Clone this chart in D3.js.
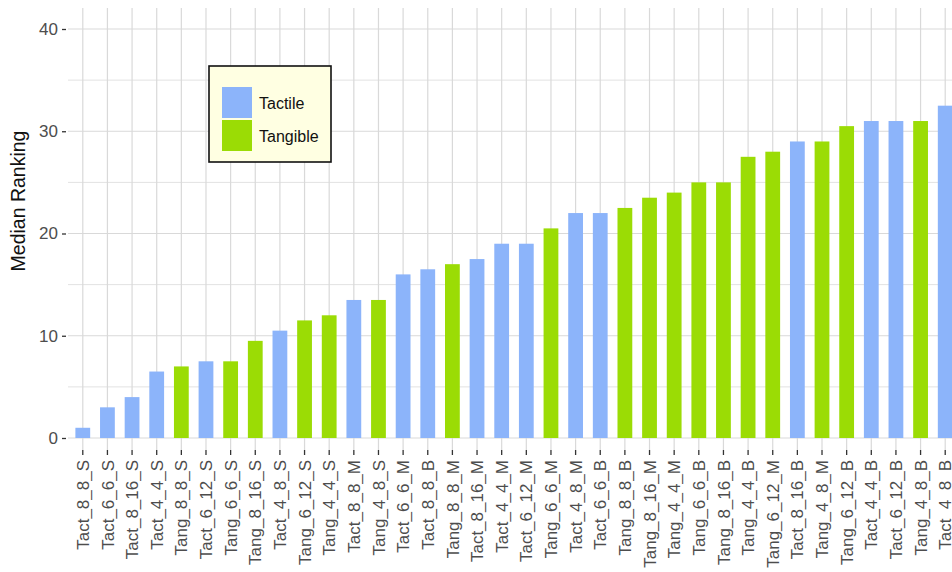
<!DOCTYPE html>
<html>
<head>
<meta charset="utf-8">
<script src="https://cdn.jsdelivr.net/npm/d3@7"></script>
<style>
  html, body { margin: 0; padding: 0; background: #fff; }
  svg { display: block; }
  text { font-family: "Liberation Sans", Arial, sans-serif; }
</style>
</head>
<body>
<svg id="chart" width="952" height="572"></svg>
<script>
const categories = ["Tact_8_8_S","Tact_6_6_S","Tact_8_16_S","Tact_4_4_S","Tang_8_8_S","Tact_6_12_S","Tang_6_6_S","Tang_8_16_S","Tact_4_8_S","Tang_6_12_S","Tang_4_4_S","Tact_8_8_M","Tang_4_8_S","Tact_6_6_M","Tact_8_8_B","Tang_8_8_M","Tact_8_16_M","Tact_4_4_M","Tact_6_12_M","Tang_6_6_M","Tact_4_8_M","Tact_6_6_B","Tang_8_8_B","Tang_8_16_M","Tang_4_4_M","Tang_6_6_B","Tang_8_16_B","Tang_4_4_B","Tang_6_12_M","Tact_8_16_B","Tang_4_8_M","Tang_6_12_B","Tact_4_4_B","Tact_6_12_B","Tang_4_8_B","Tact_4_8_B"];
const medianRanking = [1,3,4,6.5,7,7.5,7.5,9.5,10.5,11.5,12,13.5,13.5,16,16.5,17,17.5,19,19,20.5,22,22,22.5,23.5,24,25,25,27.5,28,29,29,30.5,31,31,31,32.5];
const groups = ["Tactile","Tangible"];
const groupOf = categories.map(c => c.startsWith("Tact") ? "Tactile" : "Tangible");
const yTicks = [0,10,20,30,40];
const yMinorTicks = [5,15,25,35];
const yTitle = "Median Ranking";

const colors = d3.scaleOrdinal().domain(groups).range(["#8cb4fa","#9bdc05"]);

const svg = d3.select("#chart");
const panel = {left: 68, right: 960, top: 8, bottom: 450};

const x = d3.scaleBand().domain(categories).range([panel.left, panel.right])
  .paddingInner(0.4).paddingOuter(0.3);
const y = d3.scaleLinear().domain([0, 40]).range([438, 29]);

// grid
const grid = svg.append("g");
grid.selectAll("line.hminor").data(yMinorTicks).join("line")
  .attr("x1", panel.left).attr("x2", 952)
  .attr("y1", d => y(d)).attr("y2", d => y(d))
  .attr("stroke", "#e2e2e2").attr("stroke-width", 1);
grid.selectAll("line.hmajor").data(yTicks).join("line")
  .attr("x1", panel.left).attr("x2", 952)
  .attr("y1", d => y(d)).attr("y2", d => y(d))
  .attr("stroke", "#d9d9d9").attr("stroke-width", 1.2);
grid.selectAll("line.v").data(categories).join("line")
  .attr("x1", d => x(d) + x.bandwidth()/2).attr("x2", d => x(d) + x.bandwidth()/2)
  .attr("y1", panel.top).attr("y2", panel.bottom)
  .attr("stroke", "#d9d9d9").attr("stroke-width", 1.2);

// bars
svg.append("g").selectAll("rect").data(categories).join("rect")
  .attr("x", d => x(d))
  .attr("width", x.bandwidth())
  .attr("y", (d, i) => y(medianRanking[i]))
  .attr("height", (d, i) => y(0) - y(medianRanking[i]))
  .attr("fill", (d, i) => colors(groupOf[i]));

// y axis
const yAxis = d3.axisLeft(y).tickValues(yTicks).tickSize(4).tickPadding(4);
const gy = svg.append("g").attr("transform", `translate(${panel.left - 2},0)`).call(yAxis);
gy.select(".domain").remove();
gy.selectAll(".tick line").attr("stroke", "#333").attr("stroke-width", 1.3);
gy.selectAll(".tick text").attr("fill", "#4d4d4d").attr("font-size", 17)
  .attr("font-family", "Liberation Sans, Arial, sans-serif");

// x axis
const xAxis = d3.axisBottom(x).tickSize(5).tickPadding(3);
const gx = svg.append("g").attr("transform", `translate(0,${panel.bottom})`).call(xAxis);
gx.select(".domain").remove();
gx.selectAll(".tick line").attr("stroke", "#333").attr("stroke-width", 1.3);
gx.selectAll(".tick text")
  .attr("fill", "#4d4d4d").attr("font-size", 17)
  .attr("font-family", "Liberation Sans, Arial, sans-serif")
  .attr("text-anchor", "end")
  .attr("transform", "rotate(-90)")
  .attr("x", -10).attr("y", 0).attr("dy", "0.36em");

// y title
svg.append("text")
  .attr("transform", `translate(25,201) rotate(-90)`)
  .attr("text-anchor", "middle")
  .attr("font-size", 19.5).attr("fill", "#111")
  .text(yTitle);

// legend
const lg = svg.append("g");
lg.append("rect").attr("x", 209).attr("y", 66).attr("width", 122).attr("height", 96)
  .attr("fill", "#ffffe2").attr("stroke", "#111").attr("stroke-width", 1.6);
const items = lg.selectAll("g.item").data(groups).join("g")
  .attr("transform", (d, i) => `translate(222,${87 + i * 33})`);
items.append("rect").attr("width", 30).attr("height", 31).attr("fill", d => colors(d));
items.append("text").attr("x", 37).attr("y", 22).attr("font-size", 16).attr("fill", "#111").text(d => d);
</script>
</body>
</html>
